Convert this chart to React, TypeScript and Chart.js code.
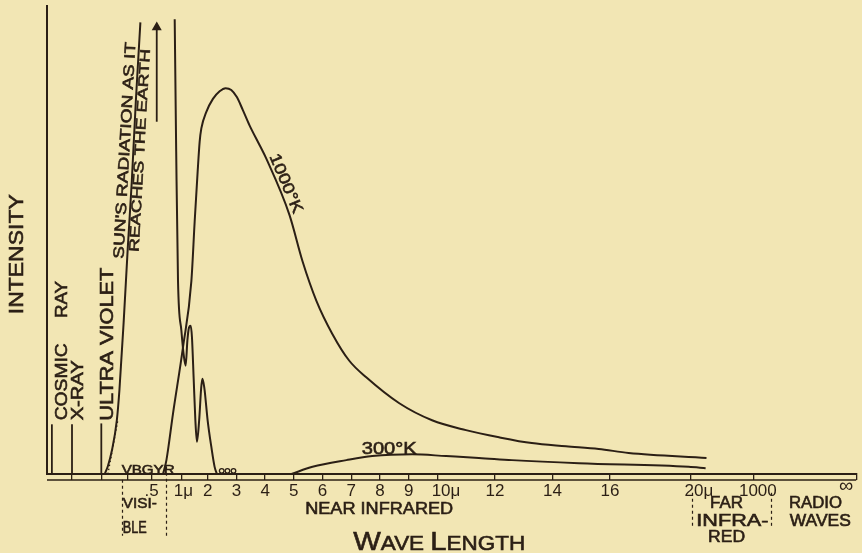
import React, { useEffect, useRef } from "react";
import { Chart, registerables } from "chart.js";

Chart.register(...registerables);

const INK = "#2b1f15";
const PAPER = "#f2e6b4";
const FONT = "'Liberation Sans', 'DejaVu Sans', sans-serif";

// x axis in "scale units": 1 unit = 1 micron on the linear 2–16 µ stretch of the drawn axis
const X_MIN = -3.59;
const X_MAX = 24.57;
const Y_MAX = 104.6;

const tickValues = [-2.72, -1.68, -0.78, 0.05, 1.1, 2, 3, 4, 5, 6, 7, 8, 9, 10, 12, 14, 16, 18.8, 21, 24.57];
const tickLabels = ["", "", "", ".5", "\u20091μ", "2", "3", "4", "5", "6", "7", "8", "9", "\u200310μ", "12", "14", "16", "\u200320μ", "\u20021000", "∞\u2003"];

// Sun's radiation as it reaches the earth (null = off-scale gap)
const sunX = [-1.58, -1.47, -1.33, -1.16, -1.07, -0.92, -0.78, -0.64, -0.5, -0.34, 0.25,
  0.854, 0.906, 0.969, 1.087, 1.177, 1.236, 1.295, 1.351, 1.41, 1.455, 1.514, 1.573, 1.628,
  1.705, 1.774, 1.816, 1.861, 1.896, 2.0, 2.128, 2.243, 2.323];
const sunY = [0, 1.8, 5.3, 12.0, 18.7, 34.2, 50.4, 65.3, 83.1, 100.9, null,
  101.6, 72.0, 43.1, 32.0, 26.1, 24.2, 29.8, 32.7, 33.1, 30.5, 21.3, 12.0, 7.2,
  12.0, 19.1, 21.3, 20.2, 18.7, 12.0, 6.1, 1.6, 0];

// Black body at 1000°K
const k1000X = [0.448, 0.566, 0.795, 1.142, 1.434, 1.549, 1.653, 1.722, 1.781, 1.955, 2.184, 2.417,
  2.625, 2.823, 3.017, 3.226, 3.458, 3.806, 4.038, 4.847, 5.299, 5.785, 6.34, 6.93, 7.52, 8.67,
  9.81, 10.99, 12.14, 13.28, 14.47, 15.61, 16.65, 19.36];
const k1000Y = [0, 3.1, 13.5, 28.3, 43.1, 56.4, 67.6, 74.2, 77.2, 80.9, 83.8, 85.5,
  86.2, 85.8, 84.2, 81.3, 77.9, 73.5, 70.5, 57.9, 47.6, 38.7, 31.3, 25.3, 21.6, 15.8,
  12.0, 9.8, 8.2, 6.9, 6.2, 5.6, 4.7, 3.6];

// Black body at 300°K
const k300X = [4.92, 5.65, 6.83, 7.73, 9.12, 10.3, 11.44, 12.59, 14.92, 18.74, 19.33];
const k300Y = [0, 1.6, 3.1, 4.0, 4.4, 4.0, 3.6, 3.1, 2.4, 1.6, 1.3];

// short band markers
const bandNames = ["COSMIC RAY", "X-RAY", "ULTRA VIOLET"];
const bandX = [-3.42, -2.72, -1.7];
const bandTop = [11.1, 11.1, 11.3];

// dotted continuation into the visible
const dottedX = [-1.47, -1.125];
const dottedY = [0, 12];

// small loops on the axis beyond 2 µ
const loopX = [2.49, 2.69, 2.9];
const loopY = [0.7, 0.7, 0.7];

// off-scale arrow
const arrowX = [0.229, 0.229];
const arrowY = [78.7, 99.8];

const pts = (xs: number[], ys: (number | null)[]) => xs.map((x, i) => ({ x, y: ys[i] }));

type Lbl = { t: string; x: number; y: number; len: number; size: number; rot?: number };
const textLabels: Lbl[] = [
  { t: "INTENSITY", x: -4.63, y: 49.1, len: 120, size: 20, rot: -90 },
  { t: "COSMIC", x: -3.07, y: 20.6, len: 77, size: 17, rot: -90 },
  { t: "RAY", x: -3.07, y: 39.0, len: 37, size: 17, rot: -90 },
  { t: "X-RAY", x: -2.51, y: 18.7, len: 60, size: 17, rot: -90 },
  { t: "ULTRA VIOLET", x: -1.47, y: 29.0, len: 153, size: 18, rot: -90 },
  { t: "SUN'S RADIATION AS IT", x: -0.865, y: 72.3, len: 217, size: 15, rot: -86.8 },
  { t: "REACHES THE EARTH", x: -0.34, y: 72.3, len: 203, size: 14, rot: -86.8 },
  { t: "1000°K", x: 4.71, y: 64.9, len: 63, size: 16, rot: 67 },
  { t: "300°K", x: 8.32, y: 5.6, len: 55, size: 17 },
  { t: "VBGYR", x: -0.07, y: 0.9, len: 53, size: 13 },
  { t: "VISI-", x: -0.36, y: -6.7, len: 34, size: 15 },
  { t: "BLE", x: -0.535, y: -12.2, len: 24, size: 16 },
  { t: "NEAR INFRARED", x: 7.97, y: -8.0, len: 148, size: 17 },
  { t: "FAR", x: 20.06, y: -6.7, len: 33, size: 16 },
  { t: "INFRA-", x: 20.26, y: -10.7, len: 72, size: 16 },
  { t: "RED", x: 20.06, y: -14.2, len: 37, size: 16 },
  { t: "RADIO", x: 23.15, y: -6.7, len: 53, size: 16 },
  { t: "WAVES", x: 23.32, y: -10.7, len: 61, size: 16 },
];

// dashed separators below the axis: [x, yFrom, yTo]
const separators = [
  [-0.99, -1.3, -13.8],
  [0.54, 1.6, -13.8],
  [18.84, -4.2, -12.0],
  [21.62, -4.2, -12.0],
];

const axisTitle = { parts: [["W", 26], ["AVE ", 20], ["L", 26], ["ENGTH", 20]] as [string, number][], x: 10.06, y: -16.9, len: 172 };

function fitText(ctx: CanvasRenderingContext2D, l: Lbl, px: number, py: number) {
  ctx.save();
  ctx.translate(px, py);
  ctx.rotate(((l.rot || 0) * Math.PI) / 180);
  ctx.font = `${l.size}px ${FONT}`;
  const w = ctx.measureText(l.t).width;
  ctx.scale(l.len / w, 1);
  ctx.textAlign = "center";
  ctx.textBaseline = "middle";
  ctx.fillStyle = INK;
  ctx.strokeStyle = INK;
  ctx.lineWidth = 0.6;
  ctx.fillText(l.t, 0, 0);
  ctx.strokeText(l.t, 0, 0);
  ctx.restore();
}

const decorPlugin = {
  id: "decor",
  afterDraw(chart: any) {
    const ctx: CanvasRenderingContext2D = chart.ctx;
    const xs = chart.scales.x;
    const ys = chart.scales.y;
    const X = (v: number) => xs.getPixelForValue(v);
    const Y = (v: number) => ys.getPixelForValue(v);
    ctx.save();
    // lower line of the double axis
    ctx.strokeStyle = INK;
    ctx.lineWidth = 1.6;
    ctx.beginPath();
    ctx.moveTo(X(X_MIN), Y(0) + 6);
    ctx.lineTo(X(X_MAX), Y(0) + 6);
    ctx.stroke();
    // dashed separators
    ctx.lineWidth = 1.2;
    ctx.setLineDash([3, 3]);
    for (const [x, a, b] of separators) {
      ctx.beginPath();
      ctx.moveTo(Math.round(X(x)) + 0.5, Y(a));
      ctx.lineTo(Math.round(X(x)) + 0.5, Y(b));
      ctx.stroke();
    }
    ctx.setLineDash([]);
    // labels
    for (const l of textLabels) fitText(ctx, l, X(l.x), Y(l.y));
    // small-caps axis title
    let total = 0;
    for (const [s, sz] of axisTitle.parts) {
      ctx.font = `${sz}px ${FONT}`;
      total += ctx.measureText(s).width;
    }
    const k = axisTitle.len / total;
    let cx = X(axisTitle.x) - axisTitle.len / 2;
    const by = Y(axisTitle.y);
    ctx.fillStyle = INK;
    ctx.strokeStyle = INK;
    ctx.lineWidth = 0.6;
    ctx.textBaseline = "alphabetic";
    ctx.textAlign = "left";
    for (const [s, sz] of axisTitle.parts) {
      ctx.font = `${sz}px ${FONT}`;
      const w = ctx.measureText(s).width;
      ctx.save();
      ctx.translate(cx, by);
      ctx.scale(k, 1);
      ctx.fillText(s, 0, 0);
      ctx.strokeText(s, 0, 0);
      ctx.restore();
      cx += w * k;
    }
    ctx.restore();
  },
};

export default function App() {
  const ref = useRef<HTMLCanvasElement>(null);
  useEffect(() => {
    const line = (data: any[], extra: any = {}) => ({
      data,
      borderColor: INK,
      backgroundColor: INK,
      borderWidth: 2,
      pointRadius: 0,
      cubicInterpolationMode: "monotone",
      spanGaps: false,
      clip: false,
      ...extra,
    });
    const datasets: any[] = [
      line(pts(sunX, sunY), { label: "Sun's radiation" }),
      line(pts(k1000X, k1000Y), { label: "1000°K" }),
      line(pts(k300X, k300Y), { label: "300°K" }),
      ...bandNames.map((n, i) =>
        line([{ x: bandX[i], y: 0 }, { x: bandX[i], y: bandTop[i] }], { label: n, borderWidth: 1.8 })
      ),
      line(pts(dottedX, dottedY), { label: "visible dotted", borderWidth: 1.3, borderDash: [1.5, 2.5] }),
      line(pts(loopX, loopY), {
        label: "loops",
        showLine: false,
        pointRadius: 2.3,
        pointBorderWidth: 1.3,
        pointBackgroundColor: "rgba(0,0,0,0)",
        pointBorderColor: INK,
      }),
      line(pts(arrowX, arrowY), {
        label: "arrow",
        borderWidth: 1.8,
        pointStyle: "triangle",
        pointRadius: [0, 4],
        pointBackgroundColor: INK,
        pointBorderColor: INK,
      }),
    ];
    const lastTick = tickValues.length - 1;
    const chart = new Chart(ref.current as HTMLCanvasElement, {
      type: "line",
      data: { datasets },
      plugins: [decorPlugin],
      options: {
        animation: false,
        responsive: false,
        devicePixelRatio: 1,
        layout: { padding: { top: 3, right: 4, left: 0, bottom: 0 } },
        plugins: { legend: { display: false }, tooltip: { enabled: false }, title: { display: false } },
        scales: {
          x: {
            type: "linear",
            min: X_MIN,
            max: X_MAX,
            afterBuildTicks: (s: any) => {
              s.ticks = tickValues.map((v) => ({ value: v }));
            },
            afterFit: (s: any) => {
              s.height = 79;
              s.paddingLeft = 0;
              s.paddingRight = 0;
            },
            ticks: {
              autoSkip: false,
              maxRotation: 0,
              minRotation: 0,
              padding: 1,
              color: INK,
              font: (c: any) =>
                c.index === lastTick
                  ? { family: FONT, size: 20, lineHeight: 0.5 }
                  : { family: FONT, size: 17 },
              callback: (_v: any, i: number) => tickLabels[i],
            },
            grid: { display: true, drawOnChartArea: false, drawTicks: true, tickLength: 6, color: INK, lineWidth: 1.3 },
            border: { display: true, color: INK, width: 2 },
          },
          y: {
            type: "linear",
            min: 0,
            max: Y_MAX,
            afterFit: (s: any) => {
              s.width = 47;
            },
            ticks: { display: false },
            grid: { display: true, drawOnChartArea: false, drawTicks: false, color: "rgba(0,0,0,0)" },
            border: { display: true, color: INK, width: 2 },
          },
        },
      } as any,
    });
    return () => chart.destroy();
  }, []);
  return (
    <div style={{ position: "fixed", left: 0, top: 0, width: 862, height: 553, background: PAPER }}>
      <canvas ref={ref} width={862} height={553} style={{ display: "block", width: 862, height: 553 }} />
    </div>
  );
}
